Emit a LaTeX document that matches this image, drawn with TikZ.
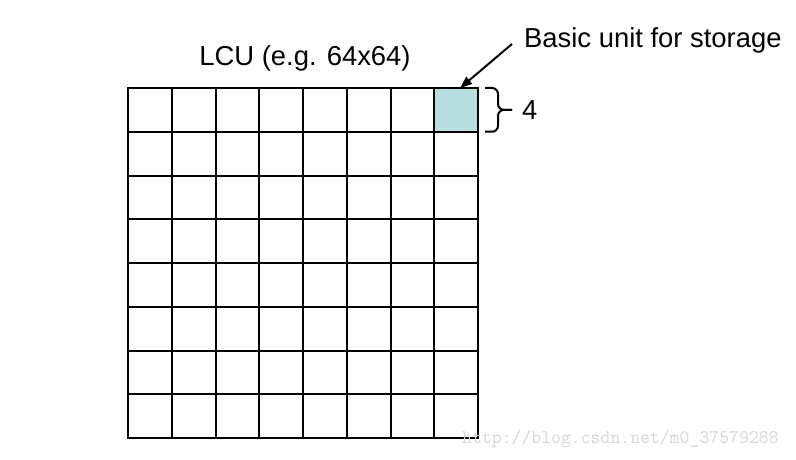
\documentclass[tikz,border=0pt]{standalone}
\usepackage{fontspec}
\setmainfont{Liberation Sans}
\usetikzlibrary{arrows.meta,positioning}
\definecolor{storefill}{RGB}{183,222,225}
\definecolor{markgray}{RGB}{214,214,210}

\begin{document}
\begin{tikzpicture}[x=1pt, y=1pt, >={Triangle[length=12pt,width=9pt]},
  cell/.style={draw, line width=2pt, minimum size=43.75pt, inner sep=0pt, outer sep=0pt},
  lbl/.style={inner sep=0pt, font=\fontsize{27.4}{32}\selectfont},
  brc/.style={draw, line width=2pt, rounded corners=6pt}]
  \useasboundingbox (0,0) rectangle (796,459);
  % 8x8 grid of 4x4 units
  \foreach \r in {1,...,8}
    \foreach \c in {1,...,8}{
      \ifnum\r\c=18 \def\cf{storefill}\else\def\cf{white}\fi
      \node[cell, fill=\cf] (c-\r-\c) at ({128+(\c-0.5)*43.75}, {371-(\r-0.5)*43.75}) {};
    }
  \node[lbl, anchor=base] (lcu) at ([xshift=2pt,yshift=22pt]c-1-4.north east) {LCU (e.g. 64x64)};
  \node[lbl, anchor=base west] (unit) at (524,411) {Basic unit for storage};
  \draw[->, line width=2pt] ([xshift=-12pt,yshift=4pt]unit.base west) -- ([xshift=4pt]c-1-8.north);
  % brace
  \coordinate (bt) at ([xshift=7pt]c-1-8.north east);
  \coordinate (bb) at ([xshift=7pt]c-1-8.south east);
  \coordinate (tip) at ([xshift=34pt]c-1-8.east);
  \draw[brc] (bt) -- ++(13pt,0) |- (tip);
  \draw[brc] (bb) -- ++(13pt,0) |- (tip);
  \node[lbl, anchor=west] (four) at ([xshift=10pt]tip) {4};
  \node[anchor=base west, inner sep=0pt, text=markgray, font=\ttfamily\fontsize{19.2}{22}\selectfont] (mark) at (462,16) {http://blog.csdn.net/m0\_37579288};
\end{tikzpicture}
\end{document}
